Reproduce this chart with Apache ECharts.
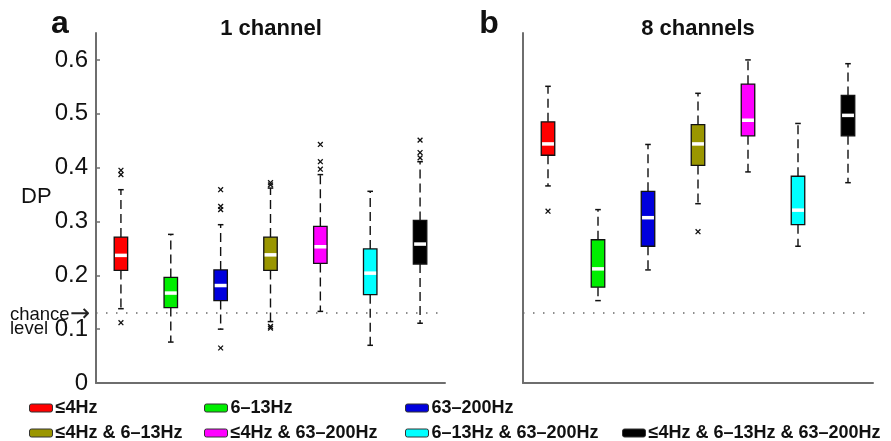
<!DOCTYPE html>
<html>
<head>
<meta charset="utf-8">
<script src="https://cdn.jsdelivr.net/npm/echarts@6/dist/echarts.min.js"></script>
<style>html,body{margin:0;padding:0;background:#fff}#c{width:891px;height:441px}</style>
</head>
<body>
<div id="c"></div>
<script>
const categories = ['≤4Hz', '6–13Hz', '63–200Hz', '≤4Hz & 6–13Hz', '≤4Hz & 63–200Hz', '6–13Hz & 63–200Hz', '≤4Hz & 6–13Hz & 63–200Hz'];
const colors = ['#ff0000', '#00ee00', '#0000dd', '#9a9600', '#ff00ff', '#00ffff', '#000000'];
// [lower whisker, q1, median, q3, upper whisker]
const oneChannel = [
  [0.138, 0.209, 0.237, 0.271, 0.359],
  [0.076, 0.140, 0.167, 0.196, 0.276],
  [0.100, 0.153, 0.181, 0.210, 0.294],
  [0.114, 0.209, 0.238, 0.271, 0.362],
  [0.133, 0.222, 0.253, 0.291, 0.387],
  [0.070, 0.164, 0.204, 0.249, 0.356],
  [0.111, 0.221, 0.258, 0.302, 0.411]
];
const oneChannelOutliers = [
  [0.395, 0.387, 0.112],
  [],
  [0.359, 0.328, 0.322, 0.065],
  [0.372, 0.368, 0.105, 0.102],
  [0.443, 0.411, 0.397],
  [],
  [0.451, 0.428, 0.418]
];
const eightChannels = [
  [0.366, 0.423, 0.444, 0.485, 0.551],
  [0.153, 0.178, 0.212, 0.266, 0.322],
  [0.210, 0.254, 0.307, 0.356, 0.443],
  [0.333, 0.404, 0.444, 0.480, 0.538],
  [0.392, 0.459, 0.488, 0.555, 0.600],
  [0.254, 0.294, 0.321, 0.384, 0.482],
  [0.372, 0.459, 0.497, 0.534, 0.593]
];
const eightChannelsOutliers = [[0.319], [], [], [0.281], [], [], []];
const chanceLevel = 0.125;
const yTicks = [0, 0.1, 0.2, 0.3, 0.4, 0.5, 0.6];

const FONT = 'Liberation Sans, Arial, Helvetica, sans-serif';
const AXIS_COLOR = '#6e6e6e';

function makeRender(color, outliers) {
  return function (params, api) {
    const c = api.value(0);
    const pts = [1, 2, 3, 4, 5].map(k => api.coord([c, api.value(k)]));
    const x = pts[0][0];
    const yLo = pts[0][1], yQ1 = pts[1][1], yMed = pts[2][1], yQ3 = pts[3][1], yHi = pts[4][1];
    const bw = api.size([1, 0])[0] * 0.27;
    const cap = 2.8;
    const wStyle = { stroke: '#111', lineWidth: 1.4, lineDash: [9, 5] };
    const children = [
      { type: 'line', shape: { x1: x, y1: yQ3, x2: x, y2: yHi }, style: wStyle },
      { type: 'line', shape: { x1: x, y1: yQ1, x2: x, y2: yLo }, style: wStyle },
      { type: 'line', shape: { x1: x - cap, y1: yHi, x2: x + cap, y2: yHi }, style: { stroke: '#111', lineWidth: 1.5 } },
      { type: 'line', shape: { x1: x - cap, y1: yLo, x2: x + cap, y2: yLo }, style: { stroke: '#111', lineWidth: 1.5 } },
      { type: 'rect', shape: { x: x - bw / 2, y: yQ3, width: bw, height: yQ1 - yQ3 }, style: { fill: color, stroke: '#111', lineWidth: 1.3 } },
      { type: 'line', shape: { x1: x - bw / 2 + 0.8, y1: yMed, x2: x + bw / 2 - 0.8, y2: yMed }, style: { stroke: '#ffffff', lineWidth: 3.5 } }
    ];
    outliers.forEach(o => {
      const p = api.coord([c, o]);
      const s = 2.4;
      children.push({ type: 'line', shape: { x1: p[0] - s, y1: p[1] - s, x2: p[0] + s, y2: p[1] + s }, style: { stroke: '#111', lineWidth: 1.3 } });
      children.push({ type: 'line', shape: { x1: p[0] - s, y1: p[1] + s, x2: p[0] + s, y2: p[1] - s }, style: { stroke: '#111', lineWidth: 1.3 } });
    });
    return { type: 'group', children };
  };
}

const series = [];
[[oneChannel, oneChannelOutliers], [eightChannels, eightChannelsOutliers]].forEach((pair, panel) => {
  const stats = pair[0], outs = pair[1];
  categories.forEach((name, i) => {
    const s = {
      type: 'custom',
      name: name,
      xAxisIndex: panel,
      yAxisIndex: panel,
      itemStyle: { color: colors[i] },
      renderItem: makeRender(colors[i], outs[i]),
      data: [[i].concat(stats[i])],
      clip: false,
      silent: true
    };
    if (i === 0) {
      s.markLine = {
        silent: true,
        symbol: 'none',
        label: { show: false },
        lineStyle: { type: [1.5, 8.5], color: '#6a6a6a', width: 1.6 },
        data: [{ yAxis: chanceLevel }]
      };
    }
    series.push(s);
  });
});

const legendPos = [[29, 399], [204, 399], [405, 399], [29, 424], [204, 424], [405, 424], [622, 424]];
const legends = categories.map((name, i) => ({
  left: legendPos[i][0],
  top: legendPos[i][1],
  padding: 0,
  icon: 'roundRect',
  itemWidth: 23,
  itemHeight: 8,
  selectedMode: false,
  data: [{ name: name, itemStyle: { color: colors[i], borderColor: '#333', borderWidth: 1 } }],
  textStyle: { fontSize: 18, fontWeight: 'bold', fontFamily: FONT, color: '#111', padding: [0, 0, 0, -2] }
}));

const chart = echarts.init(document.getElementById('c'), null, { renderer: 'canvas' });
chart.setOption({
  backgroundColor: '#ffffff',
  animation: false,
  grid: [
    { left: 96, top: 33, width: 349, height: 350 },
    { left: 523, top: 33, width: 350, height: 350 }
  ],
  xAxis: [0, 1].map(g => ({
    type: 'category',
    gridIndex: g,
    data: categories,
    axisLine: { lineStyle: { color: AXIS_COLOR, width: 2 } },
    axisTick: { show: false },
    axisLabel: { show: false },
    splitLine: { show: false }
  })),
  yAxis: [
    {
      type: 'value', gridIndex: 0, min: 0, max: 0.65, interval: 0.1,
      axisLine: { show: true, lineStyle: { color: AXIS_COLOR, width: 2 } },
      axisTick: { show: true, inside: true, length: 4, customValues: yTicks, lineStyle: { color: AXIS_COLOR, width: 1.5 } },
      axisLabel: { customValues: yTicks, fontSize: 24, fontFamily: FONT, color: '#111', margin: 8 },
      splitLine: { show: false }
    },
    {
      type: 'value', gridIndex: 1, min: 0, max: 0.65, interval: 0.1,
      axisLine: { show: true, lineStyle: { color: AXIS_COLOR, width: 2 } },
      axisTick: { show: false },
      axisLabel: { show: false },
      splitLine: { show: false }
    }
  ],
  legend: legends,
  graphic: [
    { type: 'text', x: 60, y: 24, style: { text: 'a', fontSize: 32, fontWeight: 'bold', fontFamily: FONT, fill: '#111', align: 'center', verticalAlign: 'middle' } },
    { type: 'text', x: 489, y: 24, style: { text: 'b', fontSize: 32, fontWeight: 'bold', fontFamily: FONT, fill: '#111', align: 'center', verticalAlign: 'middle' } },
    { type: 'text', x: 271, y: 29, style: { text: '1 channel', fontSize: 22, fontWeight: 'bold', fontFamily: FONT, fill: '#111', align: 'center', verticalAlign: 'middle' } },
    { type: 'text', x: 698, y: 29, style: { text: '8 channels', fontSize: 22, fontWeight: 'bold', fontFamily: FONT, fill: '#111', align: 'center', verticalAlign: 'middle' } },
    { type: 'text', x: 21, y: 197, style: { text: 'DP', fontSize: 22, fontFamily: FONT, fill: '#111', align: 'left', verticalAlign: 'middle' } },
    { type: 'text', x: 10, y: 315, style: { text: 'chance', fontSize: 18.5, fontFamily: FONT, fill: '#111', align: 'left', verticalAlign: 'middle' } },
    { type: 'text', x: 70, y: 315, style: { text: '→', fontSize: 24, fontFamily: 'DejaVu Sans, sans-serif', fill: '#222', align: 'left', verticalAlign: 'middle' } },
    { type: 'text', x: 10, y: 329, style: { text: 'level', fontSize: 18.5, fontFamily: FONT, fill: '#111', align: 'left', verticalAlign: 'middle' } }
  ],
  series: series
});
</script>
</body>
</html>
